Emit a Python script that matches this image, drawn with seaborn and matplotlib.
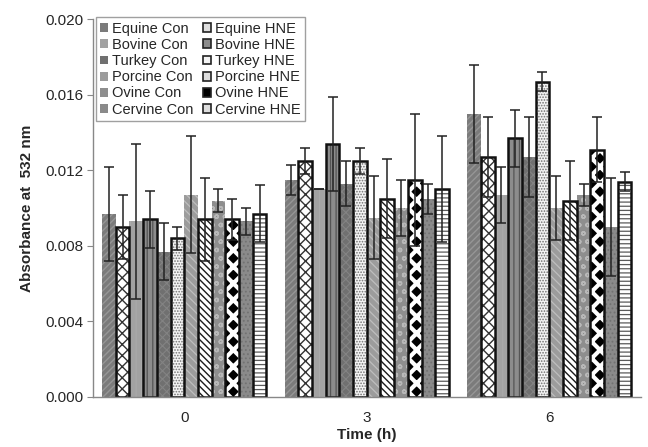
import matplotlib
matplotlib.use("Agg")
import matplotlib.pyplot as plt
import matplotlib.patches as mpatches
import seaborn as sns
import pandas as pd
import numpy as np

times = ["0", "3", "6"]
series = ["Equine Con", "Equine HNE", "Bovine Con", "Bovine HNE",
          "Turkey Con", "Turkey HNE", "Porcine Con", "Porcine HNE",
          "Ovine Con", "Ovine HNE", "Cervine Con", "Cervine HNE"]

equine_con = [0.0097, 0.0115, 0.0150]
equine_hne = [0.0090, 0.0125, 0.0127]
bovine_con = [0.0093, 0.0110, 0.0107]
bovine_hne = [0.0094, 0.0134, 0.0137]
turkey_con = [0.0077, 0.0113, 0.0127]
turkey_hne = [0.0084, 0.0125, 0.0167]
porcine_con = [0.0107, 0.0095, 0.0100]
porcine_hne = [0.0094, 0.0105, 0.0104]
ovine_con = [0.0104, 0.0100, 0.0107]
ovine_hne = [0.0094, 0.0115, 0.0131]
cervine_con = [0.0093, 0.0105, 0.0090]
cervine_hne = [0.0097, 0.0110, 0.0114]

equine_con_err = [0.0025, 0.0008, 0.0026]
equine_hne_err = [0.0017, 0.0007, 0.0021]
bovine_con_err = [0.0041, 0.0000, 0.0015]
bovine_hne_err = [0.0015, 0.0025, 0.0015]
turkey_con_err = [0.0015, 0.0012, 0.0021]
turkey_hne_err = [0.0006, 0.0007, 0.0005]
porcine_con_err = [0.0031, 0.0022, 0.0017]
porcine_hne_err = [0.0022, 0.0021, 0.0021]
ovine_con_err = [0.0006, 0.0015, 0.0006]
ovine_hne_err = [0.0011, 0.0035, 0.0017]
cervine_con_err = [0.0007, 0.0008, 0.0026]
cervine_hne_err = [0.0015, 0.0028, 0.0005]

values = [equine_con, equine_hne, bovine_con, bovine_hne, turkey_con, turkey_hne,
          porcine_con, porcine_hne, ovine_con, ovine_hne, cervine_con, cervine_hne]
errors = [equine_con_err, equine_hne_err, bovine_con_err, bovine_hne_err,
          turkey_con_err, turkey_hne_err, porcine_con_err, porcine_hne_err,
          ovine_con_err, ovine_hne_err, cervine_con_err, cervine_hne_err]

# styles: (facecolor, hatch, hatchcolor, outlined, hatch linewidth)
styles = {
    "Equine Con": ("#7b7b7b", "/////", "#969696", False, 1.0),
    "Equine HNE": ("#ffffff", "xxx", "#333333", True, 1.0),
    "Bovine Con": ("#a2a2a2", "|||", "#aaaaaa", False, 0.8),
    "Bovine HNE": ("#8c8c8c", "|||", "#555555", True, 0.9),
    "Turkey Con": ("#707070", "xxxx", "#838383", False, 0.8),
    "Turkey HNE": ("#f4f4f4", "......", "#707070", True, 0.8),
    "Porcine Con": ("#9c9c9c", "\\\\\\\\", "#bebebe", False, 0.9),
    "Porcine HNE": ("#ffffff", "\\\\\\\\\\", "#1a1a1a", True, 1.0),
    "Ovine Con": ("#8e8e8e", "oo", "#b8b8b8", False, 1.0),
    "Ovine HNE": ("#000000", "xx", "#ffffff", True, 3.0),
    "Cervine Con": ("#8a8a8a", "....", "#727272", False, 0.8),
    "Cervine HNE": ("#ffffff", "----", "#5a5a5a", True, 0.9),
}

rows = []
for s, vals in zip(series, values):
    for t, v in zip(times, vals):
        rows.append({"time": t, "series": s, "value": v})
df = pd.DataFrame(rows)

sns.set_style("white")
plt.rcParams["font.family"] = ["Liberation Sans", "DejaVu Sans"]

fig = plt.figure(figsize=(6.48, 4.47), dpi=100)
ax = fig.add_axes([0.1435, 0.112, 0.845, 0.845])

sns.barplot(data=df, x="time", y="value", hue="series", order=times,
            hue_order=series, errorbar=None, width=0.9, gap=0, ax=ax,
            legend=False, saturation=1)

legend_handles = {}
for i, (s, cont) in enumerate(zip(series, ax.containers)):
    fc, hatch, hc, outlined, hlw = styles[s]
    xs, hs = [], []
    for p in cont.patches:
        p.set_facecolor(fc)
        p.set_hatch(hatch)
        p.set_edgecolor(hc)
        p.set_linewidth(0)
        try:
            p.set_hatch_linewidth(hlw)
        except Exception:
            pass
        xs.append(p.get_x() + p.get_width() / 2)
        hs.append(p.get_height())
        if outlined:
            ax.add_patch(mpatches.Rectangle((p.get_x(), 0), p.get_width(), p.get_height(),
                                            fill=False, edgecolor="#111111", linewidth=1.8,
                                            zorder=p.get_zorder() + 0.1))
    ax.errorbar(xs, hs, yerr=errors[i], fmt="none", ecolor="#222222",
                elinewidth=1.1, capsize=3.5, capthick=1.1, zorder=5)
    lh = mpatches.Patch(facecolor=fc if not outlined or fc != "#ffffff" else "#dddddd",
                        hatch=None, edgecolor="#222222" if outlined else fc,
                        linewidth=1.2 if outlined else 0)
    legend_handles[s] = lh

order = [s for s in series if s.endswith("Con")] + [s for s in series if s.endswith("HNE")]
leg = ax.legend([legend_handles[s] for s in order], order, ncol=2, loc="upper left",
                bbox_to_anchor=(0.005, 1.005), fontsize=10.5, frameon=True,
                fancybox=False, edgecolor="#888888", handlelength=0.55,
                handleheight=0.55, handletextpad=0.3, columnspacing=0.6,
                labelspacing=0.15, borderpad=0.3, borderaxespad=0.0)
leg.get_frame().set_linewidth(1.0)

ax.set_ylim(0, 0.020)
ax.set_xlim(-0.5, 2.5)
ax.set_yticks(np.arange(0, 0.0201, 0.004))
ax.set_yticklabels([f"{v:.3f}" for v in np.arange(0, 0.0201, 0.004)], fontsize=11)
ax.set_xticks([0, 1, 2])
ax.set_xticklabels(times, fontsize=11)
ax.set_xticks([-0.5, 0.5, 1.5, 2.5], minor=True)
ax.tick_params(axis="x", which="major", length=0, pad=10)
ax.tick_params(axis="x", which="minor", length=4, color="#888888", direction="out")
ax.tick_params(axis="y", length=4, color="#888888", direction="out", left=True, pad=3)

for sp in ["top", "right"]:
    ax.spines[sp].set_visible(False)
for sp in ["left", "bottom"]:
    ax.spines[sp].set_color("#888888")
    ax.spines[sp].set_linewidth(1.0)

ax.set_xlabel("Time (h)", fontsize=11, fontweight="bold", labelpad=2)
ax.set_ylabel("Absorbance at  532 nm", fontsize=11, fontweight="bold", labelpad=8)

fig.savefig("out.png", dpi=100)
